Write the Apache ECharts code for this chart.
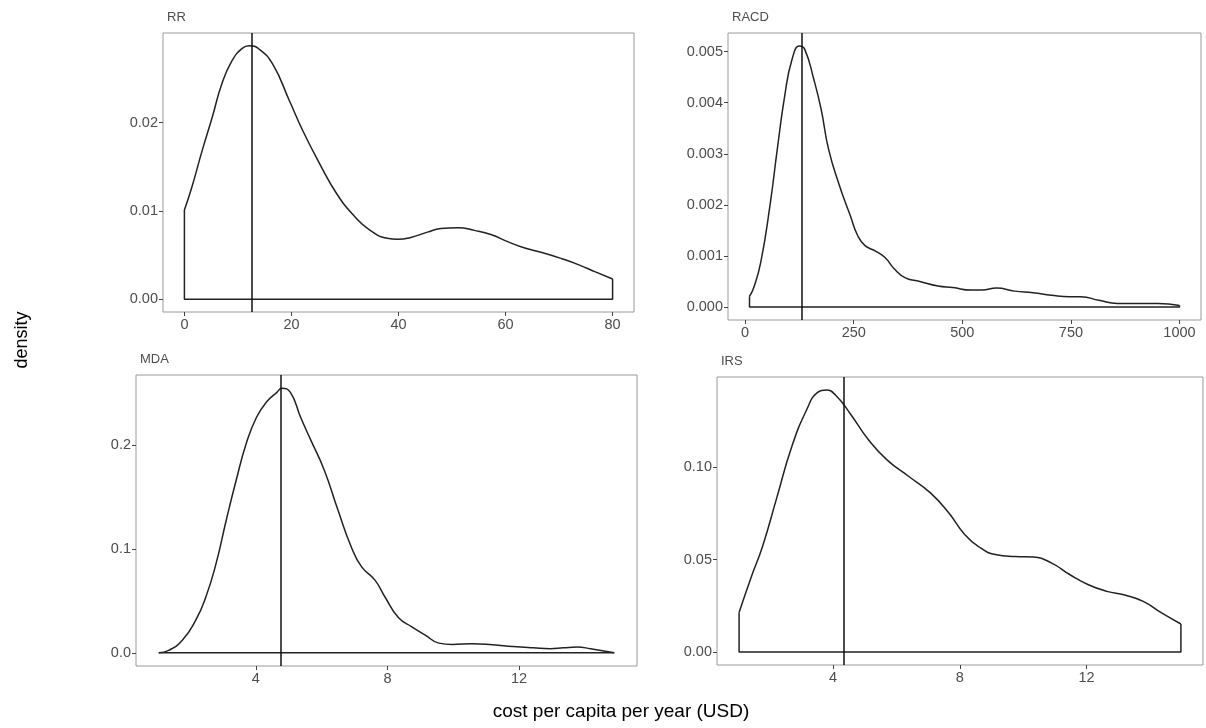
<!DOCTYPE html>
<html>
<head>
<meta charset="utf-8">
<script src="https://cdn.jsdelivr.net/npm/echarts@6/dist/echarts.min.js"></script>
<style>
  html, body { margin: 0; background: #fff; }
  #chart { width: 1206px; height: 728px; }
</style>
</head>
<body>
<div id="chart"></div>
<script>
// density curves
var rrX = [0, 1.4, 3.3, 5.2, 7.0, 8.9, 10.8, 12.1, 14.0, 16.5, 19.6, 22.1, 25.3, 28.4, 31.6, 34.7, 37.9, 39.8, 42.3, 45.4, 47.9, 51.1, 54.2, 57.4, 60.5, 63.6, 66.8, 70.5, 73.7, 76.8, 80];
var rrY = [0.0101, 0.0127, 0.0168, 0.0206, 0.0244, 0.0270, 0.0284, 0.0287, 0.0283, 0.0266, 0.0225, 0.0191, 0.0153, 0.0120, 0.0095, 0.0078, 0.0069, 0.0068, 0.0070, 0.0076, 0.0080, 0.0081, 0.0078, 0.0073, 0.0065, 0.0058, 0.0053, 0.0046, 0.0039, 0.0031, 0.0023];
var rrMedian = 12.6;

var racdX = [10, 19, 36, 57, 74, 91, 108, 125, 137, 158, 175, 192, 217, 242, 259, 276, 301, 322, 343, 369, 402, 444, 478, 520, 545, 579, 621, 663, 705, 747, 773, 815, 857, 916, 950, 1000];
var racdY = [0.00021, 0.00036, 0.00088, 0.00198, 0.00309, 0.00413, 0.00485, 0.00511, 0.00505, 0.00446, 0.00387, 0.00309, 0.00238, 0.00179, 0.00140, 0.00120, 0.00109, 0.00097, 0.00075, 0.00057, 0.00050, 0.00041, 0.00038, 0.00033, 0.00033, 0.00037, 0.00031, 0.00028, 0.00023, 0.00020, 0.00020, 0.00013, 0.00007, 0.00007, 0.00007, 0.00003];
var racdMedian = 130;

var mdaX = [1.05, 1.35, 1.76, 2.17, 2.48, 2.79, 3.10, 3.40, 3.71, 4.02, 4.33, 4.64, 4.79, 5.05, 5.36, 5.67, 6.08, 6.49, 6.90, 7.21, 7.62, 7.92, 8.33, 8.74, 9.15, 9.56, 9.97, 10.58, 11.20, 11.81, 12.43, 12.94, 13.35, 13.76, 14.17, 14.89];
var mdaY = [0, 0.0023, 0.0119, 0.0312, 0.0537, 0.0859, 0.1277, 0.166, 0.202, 0.227, 0.242, 0.251, 0.255, 0.251, 0.227, 0.205, 0.176, 0.138, 0.102, 0.083, 0.070, 0.054, 0.034, 0.025, 0.017, 0.0093, 0.0080, 0.0087, 0.0077, 0.0061, 0.0048, 0.0039, 0.0048, 0.0055, 0.0039, 0];
var mdaMedian = 4.77;

var irsX = [1.03, 1.42, 1.77, 2.23, 2.69, 3.16, 3.50, 3.79, 4.08, 4.54, 5.12, 5.70, 6.39, 7.08, 7.66, 8.12, 8.58, 9.16, 9.74, 10.32, 10.90, 11.48, 12.06, 12.64, 13.21, 13.79, 14.37, 14.98];
var irsY = [0.0214, 0.0409, 0.0571, 0.0841, 0.111, 0.131, 0.1404, 0.1418, 0.139, 0.129, 0.1148, 0.1040, 0.095, 0.086, 0.0751, 0.0643, 0.0571, 0.0526, 0.0517, 0.0514, 0.0481, 0.0418, 0.0364, 0.0328, 0.0308, 0.0274, 0.0211, 0.0151];
var irsMedian = 4.34;

// tick labels
var rrXTicks = [0, 20, 40, 60, 80];
var rrYTicks = [0, 0.01, 0.02];
var racdXTicks = [0, 250, 500, 750, 1000];
var racdYTicks = [0, 0.001, 0.002, 0.003, 0.004, 0.005];
var mdaXTicks = [4, 8, 12];
var mdaYTicks = [0, 0.1, 0.2];
var irsXTicks = [4, 8, 12];
var irsYTicks = [0, 0.05, 0.10];

var panels = [
  { name: 'RR',   x: rrX,   y: rrY,   med: rrMedian,   xt: rrXTicks,   yt: rrYTicks,   dec: 2, box: [163, 33, 471, 279] },
  { name: 'RACD', x: racdX, y: racdY, med: racdMedian, xt: racdXTicks, yt: racdYTicks, dec: 3, box: [728, 33, 473, 287] },
  { name: 'MDA',  x: mdaX,  y: mdaY,  med: mdaMedian,  xt: mdaXTicks,  yt: mdaYTicks,  dec: 1, box: [136, 375, 501, 291] },
  { name: 'IRS',  x: irsX,  y: irsY,  med: irsMedian,  xt: irsXTicks,  yt: irsYTicks,  dec: 2, box: [717, 377, 486, 288] }
];

var FONT = 'Liberation Sans, Arial, sans-serif';
var grids = [], xAxes = [], yAxes = [], series = [], titles = [];

panels.forEach(function (p, i) {
  var x0 = p.x[0], xn = p.x[p.x.length - 1];
  var span = xn - x0;
  var ymax = Math.max.apply(null, p.y);

  grids.push({
    left: p.box[0], top: p.box[1], width: p.box[2], height: p.box[3],
    show: true, borderColor: '#9a9a9a', borderWidth: 1, backgroundColor: '#fff'
  });
  titles.push({
    text: p.name, left: p.box[0] - 1, top: p.box[1] - 27,
    textStyle: { fontFamily: FONT, fontSize: 13, fontWeight: 'normal', color: '#4d4d4d' }
  });
  xAxes.push({
    type: 'value', gridIndex: i,
    min: x0 - 0.05 * span, max: xn + 0.05 * span,
    axisLine: { show: false, onZero: false },
    splitLine: { show: false },
    axisTick: { show: true, length: 4, customValues: p.xt, lineStyle: { color: '#444' } },
    axisLabel: {
      customValues: p.xt, margin: 5, color: '#4d4d4d', fontSize: 14.5, fontFamily: FONT,
      formatter: function (v) { return String(v); }
    }
  });
  yAxes.push({
    type: 'value', gridIndex: i,
    min: -0.05 * ymax, max: 1.05 * ymax,
    axisLine: { show: false, onZero: false },
    splitLine: { show: false },
    axisTick: { show: true, length: 4, customValues: p.yt, lineStyle: { color: '#444' } },
    axisLabel: {
      customValues: p.yt, margin: 5, color: '#4d4d4d', fontSize: 14.5, fontFamily: FONT,
      formatter: function (v) { return Number(v).toFixed(p.dec); }
    }
  });

  var curve = p.x.map(function (v, k) { return [v, p.y[k]]; });
  series.push({
    type: 'line', xAxisIndex: i, yAxisIndex: i,
    data: curve, smooth: 0.5, symbol: 'none',
    lineStyle: { color: '#222', width: 1.5 },
    markLine: {
      silent: true, symbol: 'none', label: { show: false },
      lineStyle: { color: '#111', width: 1.5, type: 'solid' },
      data: [{ xAxis: p.med }]
    }
  });
  // closing edges of the density polygon
  series.push({
    type: 'line', xAxisIndex: i, yAxisIndex: i, symbol: 'none',
    data: [[x0, p.y[0]], [x0, 0], [xn, 0], [xn, p.y[p.y.length - 1]]],
    lineStyle: { color: '#222', width: 1.5 }
  });
});

var chart = echarts.init(document.getElementById('chart'));
chart.setOption({
  animation: false,
  backgroundColor: '#fff',
  title: titles,
  grid: grids,
  xAxis: xAxes,
  yAxis: yAxes,
  series: series,
  graphic: [
    {
      type: 'text', x: 22, y: 340, rotation: Math.PI / 2,
      style: { text: 'density', fontSize: 18, fontFamily: FONT, fill: '#000', align: 'center', verticalAlign: 'middle' }
    },
    {
      type: 'text', x: 621, y: 712,
      style: { text: 'cost per capita per year (USD)', fontSize: 19, fontFamily: FONT, fill: '#000', align: 'center', verticalAlign: 'middle' }
    }
  ]
});
</script>
</body>
</html>
